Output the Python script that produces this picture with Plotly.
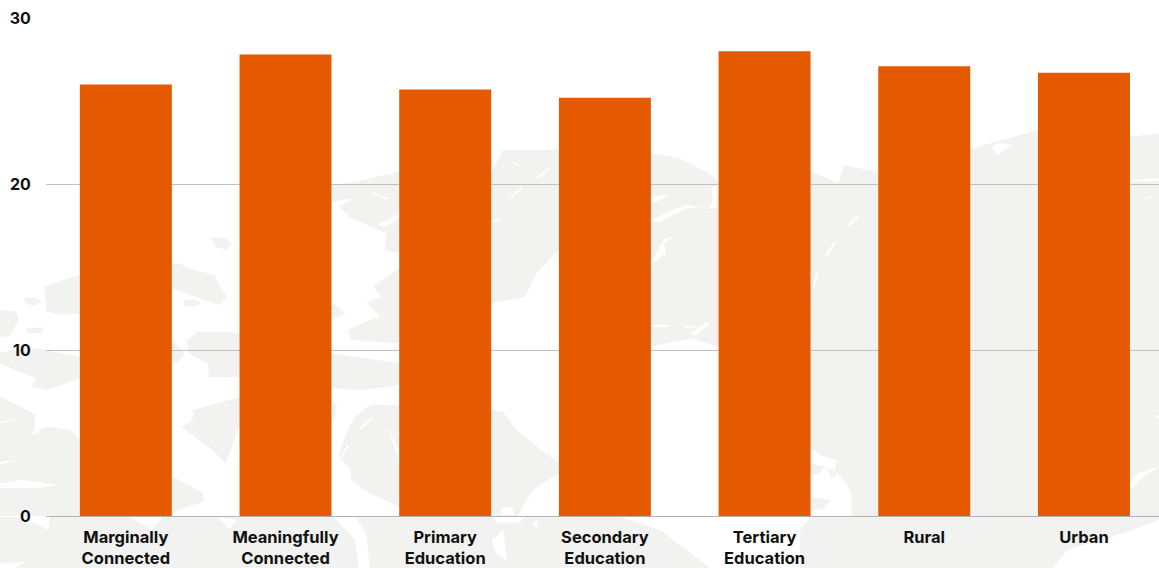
import plotly.graph_objects as go

categories = ["Marginally<br>Connected", "Meaningfully<br>Connected", "Primary<br>Education",
              "Secondary<br>Education", "Tertiary<br>Education", "Rural", "Urban"]
values = [26.0, 27.8, 25.7, 25.2, 28.0, 27.1, 26.7]
y_ticks = [0, 10, 20, 30]

W, H = 1159, 568
ML, MR, MT, MB = 46, 0, 18, 52
LAND = "#f2f2f0"
SEA = "#ffffff"

def west(pts):
    return [(x / 2.703, 140 + y / 3) for x, y in pts]

def east(pts):
    return [(580 + x / 2.708, 120 + y / 3) for x, y in pts]

background = []
def add(colour, polys):
    for p in polys:
        background.append((p, colour))

add(LAND, [
    # strip below the axis
    [(0,517),(620,517),(660,530),(710,568),(0,568)],
    # east mass
    east([(626,155),(700,190),(716,135),(800,155),(1060,85),(1135,62),(1240,30),(1490,50),(1568,40),(1568,1188)]) +
    [(1159,520),(1133,530),(1067,550),(1053,568),(800,568),(800,530)] + east([(626,1188)]),
])
add(LAND, [
    west(p) for p in [
        [(120,440),(170,420),(216,405),(216,520),(170,525),(125,515)],
        [(65,475),(95,472),(115,485),(95,497),(70,492)],
        [(0,510),(45,515),(50,540),(25,590),(0,590)],
        [(70,565),(115,562),(118,578),(75,580)],
        [(0,640),(30,630),(100,625),(216,650),(216,715),(130,750),(85,740),(100,715),(60,700),(0,670)],
        [(0,770),(55,800),(95,825),(95,870),(130,860),(190,870),(216,900),(216,1128),(0,1128)],
        [(465,370),(485,370),(510,385),(545,395),(580,405),(595,440),(615,470),(590,495),(530,470),(465,445)],
        [(570,295),(605,292),(625,310),(615,330),(585,322)],
        [(495,482),(525,478),(545,490),(525,500),(498,498)],
        [(505,600),(535,575),(600,575),(649,580),(649,710),(565,712),(562,670),(510,640)],
        [(465,600),(500,640),(480,670),(465,670)],
        [(520,810),(600,785),(649,770),(649,850),(610,970),(575,930),(490,860),(515,845),(525,820)],
        [(465,1010),(500,1030),(550,1060),(550,1085),(480,1110),(465,1128)],
        [(898,135),(960,125),(1079,95),(1079,340),(1040,330),(1045,280),(950,235),(915,200),(960,175),(898,185)],
        [(1010,440),(1079,385),(1079,610),(950,600),(940,570),(1000,540),(1030,530),(990,490),(1030,470)],
        [(898,490),(935,520),(898,540)],
        [(898,640),(960,650),(1079,670),(1079,735),(980,750),(898,745)],
        [(1000,795),(1079,795),(1079,1100),(1000,1060),(950,1020),(945,985),(915,950),(935,880),(960,830)],
        [(898,790),(910,790),(905,830),(898,845)],
        [(1327,100),(1360,30),(1490,30),(1510,25),(1510,330),(1450,400),(1420,470),(1327,490)],
        [(1327,810),(1360,815),(1395,870),(1440,910),(1510,970),(1510,1000),(1440,1050),(1400,1128),(1327,1128)],
    ]
])
add(LAND, [east([(192,100),(270,115),(350,160),(376,190),(376,680),(300,655),(192,680)])])

add(SEA, [west(p) for p in [
    [(0,850),(90,825),(0,845)],
    [(0,965),(45,960),(0,975)],
    [(0,1030),(60,1020),(160,1035),(100,1045),(0,1045)],
    [(80,885),(105,860),(105,880)],
    [(60,1130),(135,1130),(130,1170),(95,1150),(60,1150)],
    [(350,1130),(440,1130),(410,1170),(380,1150)],
    [(590,1130),(640,1140),(620,1170)],
    [(900,1130),(960,1130),(990,1180),(1000,1284),(970,1284),(960,1200)],
    [(1330,1130),(1420,1130),(1400,1150),(1345,1150)],
    [(1440,1150),(1455,1140),(1450,1170)],
    [(0,1270),(70,1265),(40,1284),(0,1284)],
    [(1330,1200),(1360,1170),(1370,1260),(1340,1240)],
    [(1005,155),(1050,175),(1045,178),(1005,160)],
    [(1020,255),(1079,222),(1079,235),(1040,260)],
    [(970,865),(1005,830),(1008,835),(975,870)],
    [(920,950),(940,915),(943,918),(925,953)],
    [(1045,860),(1079,930),(1079,960),(1060,900)],
    [(1360,55),(1405,80),(1395,70)],
    [(1375,180),(1415,145),(1410,140),(1378,172)],
    [(1450,110),(1490,80),(1490,85),(1455,115)],
    [(1327,210),(1365,185),(1330,205)],
    [(1327,240),(1360,235),(1330,250)],
    [(1355,1105),(1385,1100),(1390,1125),(1355,1125)],
]])
add(SEA, [east(p) for p in [
    [(192,230),(240,225),(200,250),(192,250)],
    [(192,300),(260,265),(290,255),(350,268),(360,240),(355,205),(370,195),(376,190),(376,195),(368,265),(290,265),(220,305),(192,305)],
    [(192,425),(230,355),(260,348),(228,370),(232,400),(200,430)],
    [(192,615),(240,615),(240,620),(192,622)],
    [(300,640),(345,605),(350,615),(310,648)],
    [(285,618),(320,620),(285,625)],
    [(720,320),(750,285),(755,290),(725,322)],
    [(665,405),(688,365),(693,368),(670,408)],
    [(628,505),(642,455),(647,457),(632,507)],
    [(626,985),(660,1010),(695,1020),(690,1050),(720,1090),(735,1120),(735,1188),(626,1188)],
    [(1130,70),(1170,75),(1130,105),(1115,85)],
    [(1490,180),(1568,175),(1568,182),(1490,185)],
    [(1525,235),(1568,220),(1530,238)],
    [(1490,1090),(1510,1060),(1568,1040),(1520,1075),(1490,1110)],
    [(1545,885),(1568,888),(1568,893)],
]])
add(LAND, [east(p) for p in [
    [(626,1030),(660,1040),(650,1060),(626,1065)],
    [(670,1045),(700,1060),(680,1075)],
    [(626,1130),(680,1140),(660,1165),(626,1170)],
    [(610,1290),(640,1210),(720,1200),(740,1270),(700,1344),(610,1344)],
]])

def path(points):
    pts = [((x - ML) / (W - ML - MR), 1 - (y - MT) / (H - MT - MB)) for x, y in points]
    return "M " + " L ".join(f"{a:.4f},{b:.4f}" for a, b in pts) + " Z"

shapes = [dict(type="path", xref="paper", yref="paper", path=path(poly),
               fillcolor=colour, line=dict(width=0), layer="below")
          for poly, colour in background]

fig = go.Figure(go.Bar(x=list(range(len(values))), y=values, width=0.576,
                       marker=dict(color="#e55a00", line=dict(width=0))))

fig.update_layout(
    width=W, height=H,
    margin=dict(l=ML, r=MR, t=MT, b=MB, pad=0),
    paper_bgcolor="white", plot_bgcolor="rgba(0,0,0,0)",
    showlegend=False, shapes=shapes,
    font=dict(family="Inter", color="#111111"),
    xaxis=dict(range=[-0.5, 6.47], automargin=False, tickmode="array", tickvals=list(range(len(categories))),
               ticktext=categories, showgrid=False, zeroline=False, showline=True,
               linecolor="#b3b3b3", linewidth=1, ticks="outside", ticklen=6,
               tickcolor="rgba(0,0,0,0)", tickfont=dict(family="Inter", size=16.5, weight=700, color="#111111")),
    yaxis=dict(range=[0, 30], automargin=False, tickmode="array", tickvals=y_ticks, showgrid=True,
               gridcolor="#c2c2c2", gridwidth=1, zeroline=False, showline=False,
               ticks="outside", ticklen=11, tickcolor="rgba(0,0,0,0)",
               tickfont=dict(family="Inter", size=16, weight=700, color="#111111")),
)
fig.write_html("out.html", config={"displayModeBar": False},
               post_script="document.body.style.margin='0';document.documentElement.style.overflow='hidden';")
